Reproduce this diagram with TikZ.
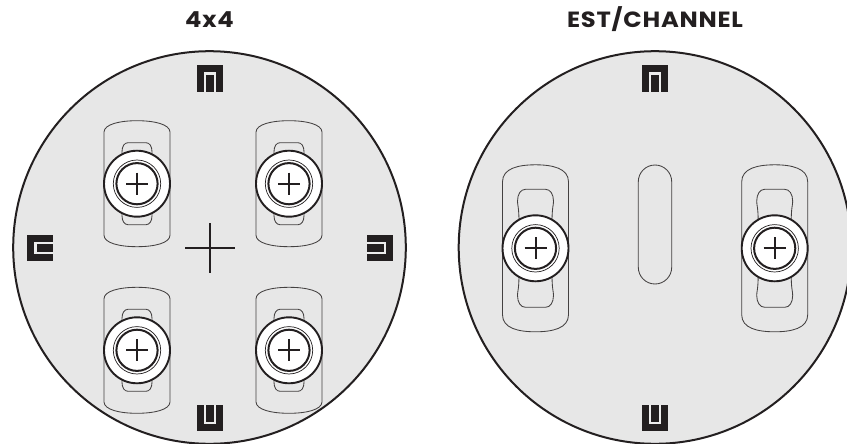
\documentclass[tikz,border=0pt]{standalone}
\usepackage{fontspec}
\setmainfont{Poppins}
\newfontfamily\titlefont[FakeStretch=1.1,LetterSpace=3.5]{Poppins}
\definecolor{ink}{HTML}{231F20}
\definecolor{plate}{HTML}{E7E7E7}
\tikzset{
  plateedge/.style={draw=ink,fill=plate,line width=2pt},
  slotline/.style={draw=ink!85,line width=0.85pt},
  titletext/.style={text=ink,font=\titlefont\bfseries\fontsize{22}{22}\selectfont,anchor=base,inner sep=0pt},
  markfill/.style={fill=ink,draw=none},
  markgap/.style={fill=white!92!ink,draw=none},
  crossline/.style={draw=ink,line width=1.4pt},
  washerout/.style={draw=ink,fill=white,line width=1.9pt},
  washermid/.style={draw=ink,line width=0.7pt},
  washerin/.style={draw=ink,line width=2pt},
  plusline/.style={draw=ink,line width=2pt}
}
% #1 x, #2 y, #3 half height, #4 straight half height
\newcommand{\myslot}[4]{%
  \draw[slotline] (#1-33,#2-#4)
    .. controls (#1-33,#2-#3+3.5) and (#1-17,#2-#3) .. (#1,#2-#3)
    .. controls (#1+17,#2-#3) and (#1+33,#2-#3+3.5) .. (#1+33,#2-#4)
    -- (#1+33,#2+#4)
    .. controls (#1+33,#2+#3-3.5) and (#1+17,#2+#3) .. (#1,#2+#3)
    .. controls (#1-17,#2+#3) and (#1-33,#2+#3-3.5) .. (#1-33,#2+#4)
    -- cycle;}
% opening behind a washer: #1 x, #2 y, #3 half width, #4 half height, #5 flat half width,
% #6 half height of widest point, #7 half width at the waist, #8 and #9 corner control offsets
\newcommand{\myhole}[9]{%
  \draw[slotline] (#1-#7,#2-26)
    .. controls (#1-#7,#2-#6+6) and (#1-#3,#2-#6+4) .. (#1-#3,#2-#6)
    .. controls (#1-#3,#2-#8) and (#1-#9,#2-#4) .. (#1-#5,#2-#4)
    -- (#1+#5,#2-#4)
    .. controls (#1+#9,#2-#4) and (#1+#3,#2-#8) .. (#1+#3,#2-#6)
    .. controls (#1+#3,#2-#6+4) and (#1+#7,#2-#6+6) .. (#1+#7,#2-26)
    -- (#1+#7,#2+26)
    .. controls (#1+#7,#2+#6-6) and (#1+#3,#2+#6-4) .. (#1+#3,#2+#6)
    .. controls (#1+#3,#2+#8) and (#1+#9,#2+#4) .. (#1+#5,#2+#4)
    -- (#1-#5,#2+#4)
    .. controls (#1-#9,#2+#4) and (#1-#3,#2+#8) .. (#1-#3,#2+#6)
    .. controls (#1-#3,#2+#6-4) and (#1-#7,#2+#6-6) .. (#1-#7,#2+26)
    -- cycle;}
\newcommand{\mywasher}[2]{%
  \draw[washerout] (#1,#2) circle[radius=33pt];
  \draw[washermid] (#1,#2) circle[radius=23.7pt];
  \draw[washerin] (#1,#2) circle[radius=20.6pt];
  \draw[plusline] (#1-11,#2) -- (#1+11,#2);
  \draw[plusline] (#1,#2-11) -- (#1,#2+11);}
\newcommand{\myfour}[2]{%
  \myslot{#1}{#2}{63}{51.5}
  \myhole{#1}{#2}{15}{41}{9}{32}{15}{37.4}{12.6}
  \mywasher{#1}{#2}}
\newcommand{\mytwo}[2]{%
  \myslot{#1}{#2}{83.5}{66.5}
  \myhole{#1}{#2}{18}{59}{10}{47}{16.5}{54.2}{14.8}
  \mywasher{#1}{#2}}
% orientation marks: centre x, centre y
\newcommand{\tabtop}[2]{%
  \fill[markfill] (#1-13,#2-13.3) rectangle (#1+13,#2+13.3);
  \fill[markgap] (#1-6,#2-6) rectangle (#1+6,#2+13.3);
  \fill[markfill] (#1-4,#2-3.5) rectangle (#1+4,#2+13.3);}
\newcommand{\tabbot}[2]{%
  \fill[markfill] (#1-13,#2-13.3) rectangle (#1+13,#2+13.3);
  \fill[markgap] (#1-6,#2-13.3) rectangle (#1+6,#2+6);
  \fill[markfill] (#1-4,#2-13.3) rectangle (#1+4,#2+3.5);}
\newcommand{\tableft}[2]{%
  \fill[markfill] (#1-13,#2-13.3) rectangle (#1+13,#2+13.3);
  \fill[markgap] (#1-6,#2-6) rectangle (#1+13,#2+6);
  \fill[markfill] (#1-3.5,#2-4) rectangle (#1+13,#2+4);}
\newcommand{\tabright}[2]{%
  \fill[markfill] (#1-13,#2-13.3) rectangle (#1+13,#2+13.3);
  \fill[markgap] (#1-13,#2-6) rectangle (#1+6,#2+6);
  \fill[markfill] (#1-13,#2-4) rectangle (#1+3.5,#2+4);}
\begin{document}
\begin{tikzpicture}[x=1pt,y=-1pt]
\useasboundingbox (0,0) rectangle (847,444);
\clip (0,0) rectangle (847,444);
\fill[white] (0,0) rectangle (847,444);
\node[titletext] (titleA) at (209.5,27.7) {4x4};
\node[titletext] (titleB) at (655,27.7) {EST/CHANNEL};
% left plate
\draw[plateedge] (209.5,247.5) circle[radius=196.3pt];
\myfour{137}{183.7}
\myfour{289}{183.7}
\myfour{137}{350.3}
\myfour{289}{350.3}
\draw[crossline] (185,248) -- (235.3,248);
\draw[crossline] (210,223) -- (210,273.3);
\tabtop{210.3}{78.3}
\tabbot{210.3}{418}
\tableft{40.3}{248}
\tabright{380.3}{248}
% right plate
\draw[plateedge] (655,247.5) circle[radius=196.3pt];
\mytwo{535.5}{248.3}
\mytwo{774.7}{248.3}
\draw[slotline,rounded corners=16.7pt] (638.3,165) rectangle (671.7,284);
\tabtop{655.3}{78.3}
\tabbot{655.3}{418}
\end{tikzpicture}
\end{document}
